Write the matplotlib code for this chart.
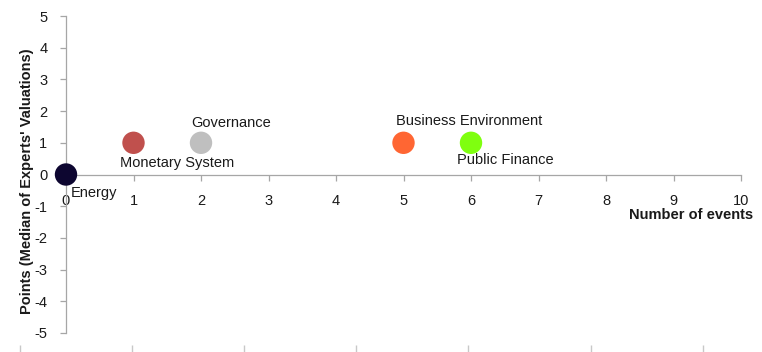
import matplotlib
matplotlib.use("Agg")
import matplotlib.pyplot as plt

plt.rcParams['font.family'] = ['Liberation Sans', 'DejaVu Sans']
plt.rcParams['axes.unicode_minus'] = False

categories = ["Energy", "Monetary System", "Governance", "Business Environment", "Public Finance"]
events = [0, 1, 2, 5, 6]
points = [0, 1, 1, 1, 1]
colors = ["#0d0630", "#c0504d", "#bfbfbf", "#ff6633", "#7fff0f"]
label_offsets = [(5, -18), (-14, -20), (-10, 20), (-7, 22), (-14, -17)]  # pixels

fig = plt.figure(figsize=(7.62, 3.52), dpi=100)
ax = fig.add_axes([66/762, 1-333/352, (741-66)/762, (333-16)/352])

ax.scatter(events, points, s=260, c=colors, zorder=3, linewidths=0, clip_on=False)
for name, x, y, off in zip(categories, events, points, label_offsets):
    ax.annotate(name, (x, y), xytext=off, textcoords='offset pixels',
                ha='left', va='center', fontsize=10.5, color='#1a1a1a', zorder=4)

ax.set_xlim(0, 10)
ax.set_ylim(-5, 5)
ax.set_xticks(range(0, 11))
ax.set_yticks(range(-5, 6))
ax.spines['left'].set_position(('data', 0))
ax.spines['bottom'].set_position(('data', 0))
for s in ['top', 'right']:
    ax.spines[s].set_visible(False)
for s in ['left', 'bottom']:
    ax.spines[s].set_color('#a6a6a6')
    ax.spines[s].set_linewidth(0.9)
ax.tick_params(axis='x', direction='out', length=4.5, width=0.9, color='#a6a6a6',
               pad=9.5, labelsize=10.5, labelcolor='#1a1a1a')
ax.tick_params(axis='y', direction='out', length=4.5, width=0.9, color='#a6a6a6',
               pad=9, labelsize=10.5, labelcolor='#1a1a1a')

fig.text(27/762, 1-181/352, "Points (Median of Experts' Valuations)", rotation=90,
         ha='center', va='center', fontsize=10.5, fontweight='bold', color='#1a1a1a')
fig.text(753/762, 1-215/352, "Number of events", ha='right', va='center',
         fontsize=10.5, fontweight='bold', color='#1a1a1a')

# faint tick marks along bottom edge
bax = fig.add_axes([0, 0, 1, 7/352])
bax.set_xlim(0, 762)
bax.set_ylim(0, 1)
bax.axis('off')
bax.vlines([20, 132, 244, 356, 468, 591, 703], 0, 1, color='#c8c8c8', linewidth=1)

fig.savefig("out.png", dpi=100)
